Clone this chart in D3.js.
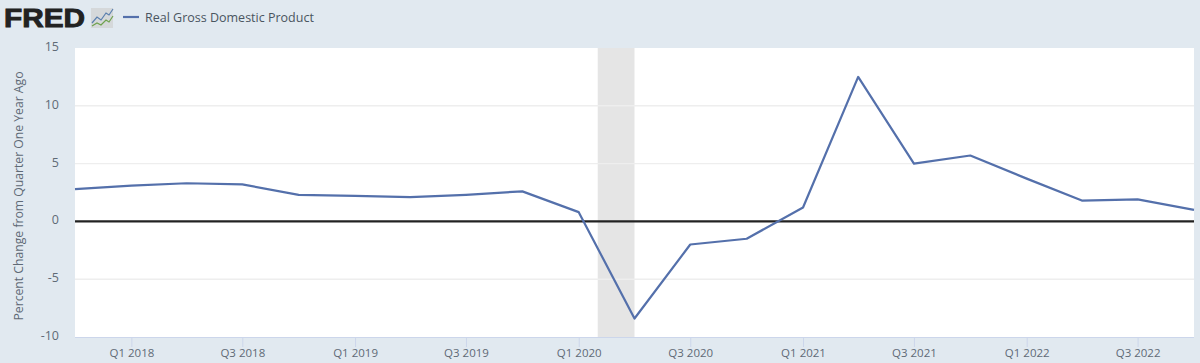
<!DOCTYPE html>
<html>
<head>
<meta charset="utf-8">
<script src="https://cdnjs.cloudflare.com/ajax/libs/d3/7.8.5/d3.min.js"></script>
<style>
  html, body { margin: 0; padding: 0; background: #e1e9f0; overflow: hidden; }
  text { font-family: "Open Sans", sans-serif; }
  .domain { display: none; }
</style>
</head>
<body>
<div id="chart"></div>
<script>
/**
 * DATA
 * */
const quarters = ["2017-10-01", "2018-01-01", "2018-04-01", "2018-07-01", "2018-10-01",
  "2019-01-01", "2019-04-01", "2019-07-01", "2019-10-01",
  "2020-01-01", "2020-04-01", "2020-07-01", "2020-10-01",
  "2021-01-01", "2021-04-01", "2021-07-01", "2021-10-01",
  "2022-01-01", "2022-04-01", "2022-07-01", "2022-10-01"];
const gdpChange = [2.8, 3.1, 3.3, 3.2, 2.3, 2.2, 2.1, 2.3, 2.6, 0.8, -8.4, -2.0, -1.5, 1.2, 12.5, 5.0, 5.7, 3.7, 1.8, 1.9, 1.0];
const recession = ["2020-02-01", "2020-04-01"];
const xTickDates = ["2018-01-01", "2018-07-01", "2019-01-01", "2019-07-01", "2020-01-01",
  "2020-07-01", "2021-01-01", "2021-07-01", "2022-01-01", "2022-07-01"];
const xTickLabels = ["Q1 2018", "Q3 2018", "Q1 2019", "Q3 2019", "Q1 2020",
  "Q3 2020", "Q1 2021", "Q3 2021", "Q1 2022", "Q3 2022"];
const yTicks = [-10, -5, 0, 5, 10, 15];
const seriesName = "Real Gross Domestic Product";
const yTitle = "Percent Change from Quarter One Year Ago";

/**
 * CONSTANTS
 * */
const width = 1200,
  height = 363,
  margin = { top: 48, bottom: 26, left: 75, right: 6 };

const parseDate = d3.utcParse("%Y-%m-%d");
const lineColor = "#5470ab";
const textColor = "#5f6a76";

const svg = d3.select("#chart")
  .append("svg")
  .attr("width", width)
  .attr("height", height)
  .style("display", "block");

const xScale = d3.scaleUtc()
  .domain(d3.extent(quarters, parseDate))
  .range([margin.left, width - margin.right]);

const yScale = d3.scaleLinear()
  .domain([-10, 15])
  .range([height - margin.bottom, margin.top]);

// plot background
svg.append("rect")
  .attr("x", margin.left)
  .attr("y", margin.top)
  .attr("width", width - margin.left - margin.right)
  .attr("height", height - margin.top - margin.bottom)
  .attr("fill", "#ffffff");

// recession band
svg.append("rect")
  .attr("x", xScale(parseDate(recession[0])))
  .attr("y", margin.top)
  .attr("width", xScale(parseDate(recession[1])) - xScale(parseDate(recession[0])))
  .attr("height", height - margin.top - margin.bottom)
  .attr("fill", "#e5e5e5");

// y axis + gridlines
const yAxis = d3.axisLeft(yScale)
  .tickValues(yTicks)
  .tickSize(0)
  .tickPadding(16)
  .tickFormat(d3.format("d"));

svg.append("g")
  .attr("transform", `translate(${margin.left},0)`)
  .call(yAxis)
  .call(g => g.selectAll("text")
    .attr("fill", textColor)
    .attr("font-size", 12.5)
    .attr("dy", "0.2em")
    .text(d => d < 0 ? "-" + Math.abs(d) : d));

svg.append("g")
  .selectAll("line")
  .data(yTicks.filter(d => d !== 15 && d !== -10 && d !== 0))
  .join("line")
  .attr("x1", margin.left)
  .attr("x2", width - margin.right)
  .attr("y1", d => yScale(d))
  .attr("y2", d => yScale(d))
  .attr("stroke", "#eeeeee")
  .attr("stroke-width", 1.4);

// x axis
const xAxis = d3.axisBottom(xScale)
  .tickValues(xTickDates.map(parseDate))
  .tickSize(10)
  .tickPadding(2)
  .tickFormat((d, i) => xTickLabels[i]);

svg.append("g")
  .attr("transform", `translate(0,${height - margin.bottom})`)
  .call(xAxis)
  .call(g => g.selectAll("line").attr("stroke", "#ccd6eb"))
  .call(g => g.selectAll("text").attr("fill", textColor).attr("font-size", 11.5));

svg.append("line")
  .attr("x1", margin.left)
  .attr("x2", width - margin.right)
  .attr("y1", height - margin.bottom + 0.5)
  .attr("y2", height - margin.bottom + 0.5)
  .attr("stroke", "#ccd6eb");

// zero line
svg.append("line")
  .attr("x1", margin.left)
  .attr("x2", width - margin.right)
  .attr("y1", yScale(0))
  .attr("y2", yScale(0))
  .attr("stroke", "#222222")
  .attr("stroke-width", 2.2);

// series
const line = d3.line()
  .x((d, i) => xScale(parseDate(quarters[i])))
  .y(d => yScale(d));

svg.append("path")
  .datum(gdpChange)
  .attr("d", line)
  .attr("fill", "none")
  .attr("stroke", lineColor)
  .attr("stroke-width", 2.2)
  .attr("stroke-linejoin", "round");

// y title
svg.append("text")
  .attr("transform", "translate(23,196) rotate(-90)")
  .attr("text-anchor", "middle")
  .attr("fill", textColor)
  .attr("font-size", 12.2)
  .text(yTitle);

// FRED logo
svg.append("text")
  .attr("x", 4)
  .attr("y", 27)
  .attr("font-size", 26)
  .attr("font-weight", 700)
  .attr("fill", "#222222")
  .attr("stroke", "#222222")
  .attr("stroke-width", 0.9)
  .attr("textLength", 81)
  .attr("lengthAdjust", "spacingAndGlyphs")
  .style("font-family", "'Liberation Sans', sans-serif")
  .text("FRED");

svg.append("rect")
  .attr("x", 91).attr("y", 8).attr("width", 22).attr("height", 20)
  .attr("fill", "#d5d8da");
svg.append("path")
  .attr("d", "M92 23 L97 17 L101 20 L106 13 L109 15 L113 9")
  .attr("fill", "none").attr("stroke", "#5a7fae").attr("stroke-width", 1.2);
svg.append("path")
  .attr("d", "M92 26 L97 23 L101 25 L106 20 L109 22 L113 16")
  .attr("fill", "none").attr("stroke", "#6fa24f").attr("stroke-width", 1.2);

// legend
svg.append("line")
  .attr("x1", 123).attr("x2", 139).attr("y1", 17).attr("y2", 17)
  .attr("stroke", lineColor).attr("stroke-width", 2.2);

svg.append("text")
  .attr("x", 145)
  .attr("y", 22)
  .attr("fill", "#4a5560")
  .attr("font-size", 12.5)
  .text(seriesName);
</script>
</body>
</html>
